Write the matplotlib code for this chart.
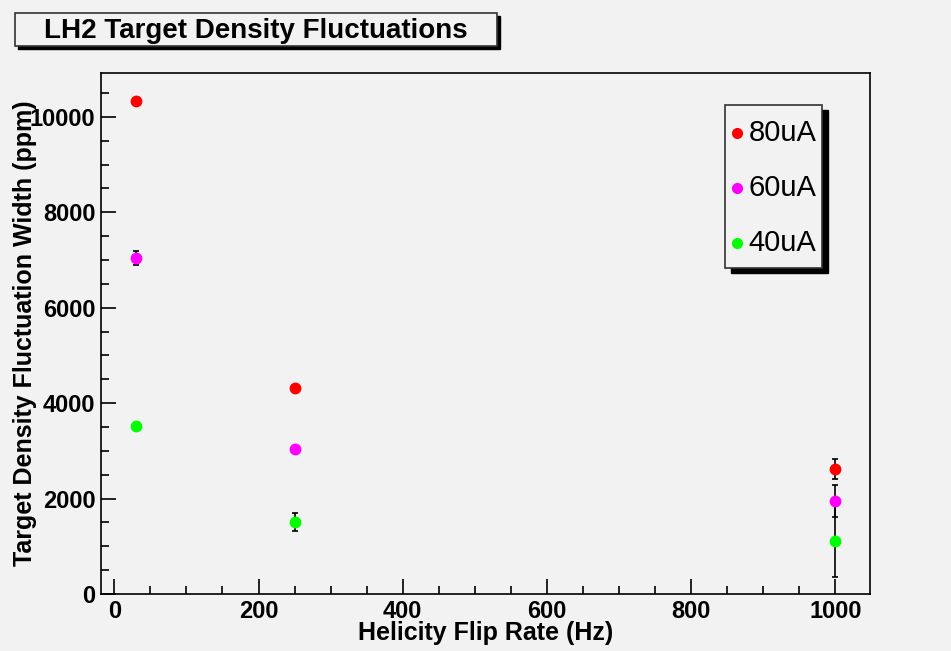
import matplotlib
matplotlib.use('Agg')
import matplotlib.pyplot as plt
from matplotlib.ticker import MultipleLocator
from matplotlib.patches import Rectangle
from matplotlib.lines import Line2D

# helicity flip rates (Hz) and fitted density fluctuation widths (ppm)
rates = [30, 250, 1000]
width_80uA = [10335, 4320, 2620]
err_80uA = [40, 50, 200]
width_60uA = [7045, 3040, 1950]
err_60uA = [140, 60, 335]
width_40uA = [3525, 1510, 1110]
err_40uA = [50, 190, 760]

currents = ['80uA', '60uA', '40uA']
colors = ['#ff0000', '#ff00ff', '#00ff00']

bg = '#f2f2f2'
plt.rcParams['font.family'] = ['Liberation Sans', 'DejaVu Sans']

fig = plt.figure(figsize=(9.51, 6.51), dpi=100, facecolor=bg)
ax = fig.add_axes([0.1062, 0.0876, 0.8086, 0.8003], facecolor=bg)

series = [(width_80uA, err_80uA), (width_60uA, err_60uA), (width_40uA, err_40uA)]
for (vals, errs), c, lab in zip(series, colors, currents):
    ax.errorbar(rates, vals, yerr=errs, fmt='none', ecolor='black',
                elinewidth=1.2, capsize=2.2, capthick=1.2, zorder=2)
    ax.plot(rates, vals, 'o', color=c, markersize=7.5, label=lab, zorder=3)

ax.set_xlim(-18.5, 1048)
ax.set_ylim(0, 10920)

ax.xaxis.set_major_locator(MultipleLocator(200))
ax.xaxis.set_minor_locator(MultipleLocator(50))
ax.yaxis.set_major_locator(MultipleLocator(2000))
ax.yaxis.set_minor_locator(MultipleLocator(500))
ax.tick_params(which='both', direction='in', top=False, right=False,
               labelsize=17, width=1.2, color='black')
ax.tick_params(which='major', length=11)
ax.tick_params(which='minor', length=6)
ax.tick_params(axis='x', pad=4)
ax.tick_params(axis='y', pad=4)
for lbl in ax.get_xticklabels() + ax.get_yticklabels():
    lbl.set_fontweight('bold')
for sp in ax.spines.values():
    sp.set_linewidth(1.2)

ax.set_xlabel('Helicity Flip Rate (Hz)', fontsize=18, fontweight='bold', labelpad=-1)
ax.set_ylabel('Target Density Fluctuation Width (ppm)', fontsize=18,
              fontweight='bold', labelpad=-5)

# legend box with drop shadow
lx0, ly0, lw, lh = 0.7624, 0.5883, 0.1020, 0.2504
fig.patches.append(Rectangle((lx0 + 0.0058, ly0 - 0.0077), lw, lh,
                             transform=fig.transFigure, facecolor='black',
                             edgecolor='black', zorder=5))
fig.patches.append(Rectangle((lx0, ly0), lw, lh, transform=fig.transFigure,
                             facecolor=bg, edgecolor='#333333', linewidth=1.2,
                             zorder=6))
for i, (c, lab) in enumerate(zip(colors, currents)):
    yy = ly0 + lh - (0.0430 + i * 0.0845)
    fig.lines.append(Line2D([lx0 + 0.013], [yy], marker='o', color=c,
                            markersize=7, linestyle='none',
                            transform=fig.transFigure, zorder=7))
    fig.text(lx0 + 0.025, yy, lab, fontsize=21, ha='left', va='center', zorder=7)

# title box with drop shadow
tx0, ty0, tw, th = 0.0158, 0.9293, 0.5068, 0.0507
fig.patches.append(Rectangle((tx0 + 0.0030, ty0 - 0.0046), tw, th,
                             transform=fig.transFigure, facecolor='black',
                             edgecolor='black', zorder=5))
fig.patches.append(Rectangle((tx0, ty0), tw, th, transform=fig.transFigure,
                             facecolor=bg, edgecolor='#333333', linewidth=1.2,
                             zorder=6))
fig.text(tx0 + tw / 2, ty0 + th / 2 - 0.003, 'LH2 Target Density Fluctuations',
         fontsize=20, fontweight='bold', ha='center', va='center', zorder=7)

fig.savefig('out.png', dpi=100, facecolor=bg)
